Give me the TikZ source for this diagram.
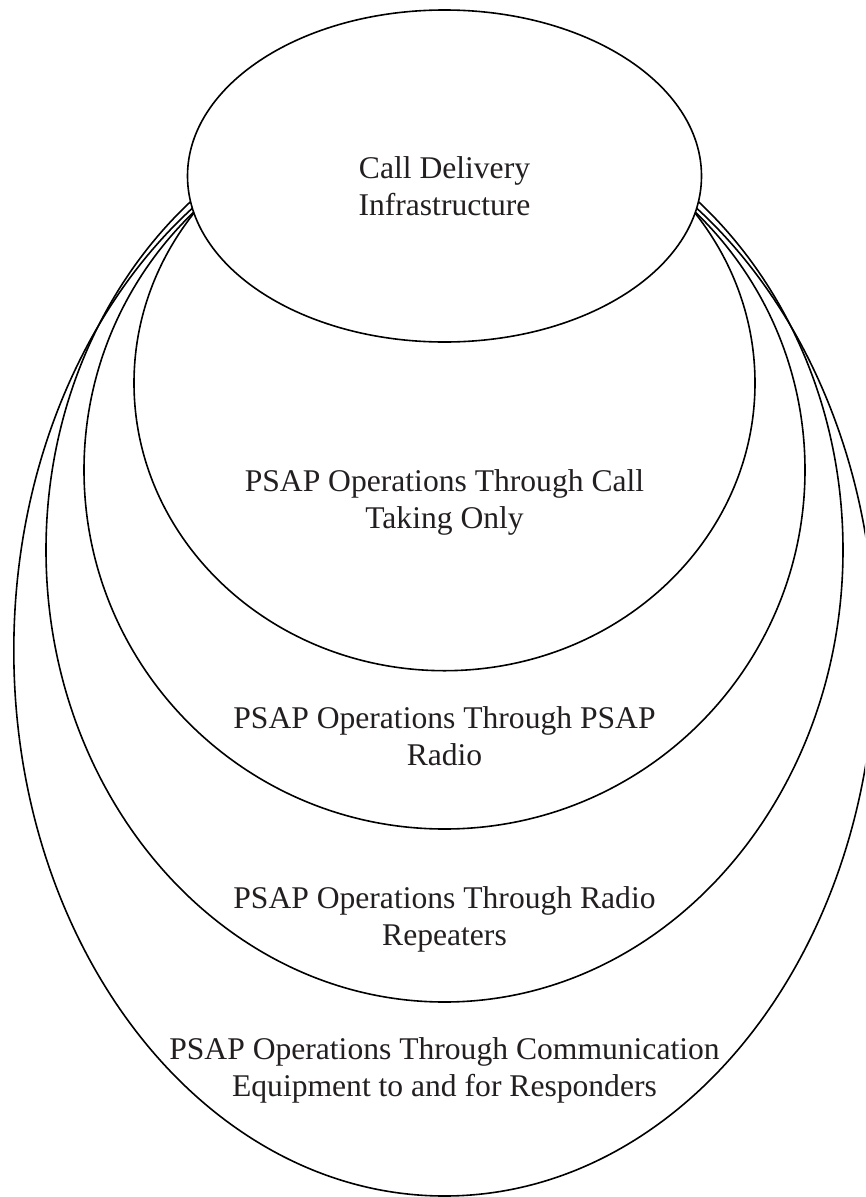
\documentclass[tikz,border=0pt]{standalone}
\usepackage{fontspec}
\setmainfont{Liberation Serif}
\definecolor{textcol}{RGB}{35,31,32}
\begin{document}
\begin{tikzpicture}[x=1pt,y=-1pt,
  outline/.style={draw=black, line width=1.6pt},
  txt/.style={align=center, inner sep=0pt, text=textcol, font=\fontsize{31.6}{37}\selectfont}]
\useasboundingbox (0,0) rectangle (865,1197);
\clip (0,0) rectangle (865,1197);
% nested outer shapes
\draw[outline] (444.5,650.5) ellipse [x radius=430.7pt, y radius=545.5pt];
\draw[outline] (444.5,550) ellipse [x radius=398.5pt, y radius=452pt];
\draw[outline] (444.5,470) ellipse [x radius=360.5pt, y radius=359pt];
\draw[outline] (444.5,383) ellipse [x radius=310.5pt, y radius=287.7pt];
% top ellipse
\draw[outline, fill=white] (444.5,176) ellipse [x radius=257pt, y radius=166pt];
% texts
\node[txt] (t1) at (444.5,189.1) {\strut Call Delivery\\\strut Infrastructure};
\node[txt] (t2) at (444.5,502.8) {\strut PSAP Operations Through Call\\\strut Taking Only};
\node[txt] (t3) at (444.5,739.4) {\strut PSAP Operations Through PSAP\\\strut Radio};
\node[txt] (t4) at (444.5,919.4) {\strut PSAP Operations Through Radio\\\strut Repeaters};
\node[txt] (t5) at (444.5,1070.4) {\strut PSAP Operations Through Communication\\\strut Equipment to and for Responders};
\end{tikzpicture}
\end{document}
